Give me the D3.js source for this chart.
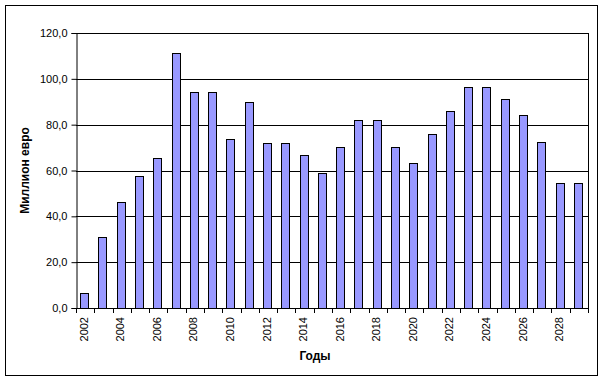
<!DOCTYPE html>
<html>
<head>
<meta charset="utf-8">
<script src="https://cdn.jsdelivr.net/npm/d3@7"></script>
<style>
    body { margin: 0; background: #fff; }
    text { font-family: Arial, "Liberation Sans", sans-serif; }
</style>
</head>
<body>
<svg id="chart" width="604" height="381"></svg>
<script>
// Data
const years = [2002, 2003, 2004, 2005, 2006, 2007, 2008, 2009, 2010, 2011,
               2012, 2013, 2014, 2015, 2016, 2017, 2018, 2019, 2020, 2021,
               2022, 2023, 2024, 2025, 2026, 2027, 2028, 2029];
const values = [6.5, 31.0, 46.3, 57.6, 65.5, 111.3, 94.3, 94.3, 73.7, 89.9,
                71.8, 71.8, 66.8, 58.9, 70.3, 82.0, 82.0, 70.3, 63.3, 75.9,
                86.0, 96.4, 96.4, 91.2, 84.2, 72.4, 54.5, 54.5];
const yTicks = [0, 20, 40, 60, 80, 100, 120];
const xTitle = "Годы";
const yTitle = "Миллион евро";

const svg = d3.select("#chart");

// plot area
const plotL = 76, plotR = 588, plotT = 33, plotB = 308;

// Outer chart border
svg.append("rect")
    .attr("x", 5.5).attr("y", 5.5)
    .attr("width", 592).attr("height", 370)
    .attr("fill", "white")
    .attr("stroke", "black");

const xScale = d3.scaleBand().domain(years).range([plotL, plotR]);
const yScale = d3.scaleLinear().domain([0, 120]).range([plotB, plotT]);
const fmt = d => d3.format(".1f")(d).replace(".", ",");

// Gridlines
svg.append("g")
    .selectAll("line")
    .data(yTicks.slice(1))
    .enter()
    .append("line")
        .attr("x1", plotL).attr("x2", plotR)
        .attr("y1", d => Math.round(yScale(d)) + 0.5)
        .attr("y2", d => Math.round(yScale(d)) + 0.5)
        .attr("stroke", "black");

// right border of plot area
svg.append("line")
    .attr("x1", plotR + 0.5).attr("x2", plotR + 0.5)
    .attr("y1", plotT).attr("y2", plotB)
    .attr("stroke", "black");

// Bars
const barW = 8;
svg.append("g")
    .selectAll("rect")
    .data(years)
    .enter()
    .append("rect")
        .attr("x", (d) => Math.round(xScale(d) + xScale.bandwidth() / 2 - barW / 2) - 0.5)
        .attr("y", (d, i) => Math.round(yScale(values[i])) + 0.5)
        .attr("width", barW)
        .attr("height", (d, i) => Math.round(yScale(0)) - Math.round(yScale(values[i])))
        .attr("fill", "#9999ff")
        .attr("stroke", "black");

// y-axis
const yAxis = svg.append("g")
    .attr("transform", `translate(${plotL + 0.5},0)`)
    .call(d3.axisLeft(yScale).tickValues(yTicks).tickFormat(fmt).tickSize(5).tickPadding(4));
yAxis.select(".domain").attr("stroke", "black");
yAxis.selectAll("text").style("font-size", "11px").attr("fill", "black")
    .style("font-family", "Arial, 'Liberation Sans', sans-serif");

// x-axis : ticks on category boundaries
svg.append("line")
    .attr("x1", plotL).attr("x2", plotR + 1)
    .attr("y1", plotB + 0.5).attr("y2", plotB + 0.5)
    .attr("stroke", "black");
svg.append("g")
    .selectAll("line")
    .data(years.concat([null]))
    .enter()
    .append("line")
        .attr("x1", (d, i) => Math.round(plotL + i * xScale.step()) + 0.5)
        .attr("x2", (d, i) => Math.round(plotL + i * xScale.step()) + 0.5)
        .attr("y1", plotB).attr("y2", plotB + 5)
        .attr("stroke", "black");

// x labels, every other year, rotated
svg.append("g")
    .selectAll("text")
    .data(years.filter((d, i) => i % 2 === 0))
    .enter()
    .append("text")
        .attr("transform", d => `translate(${xScale(d) + xScale.bandwidth() / 2 + 2.5},${plotB + 9})rotate(-90)`)
        .attr("text-anchor", "end")
        .style("font-size", "11px")
        .text(d => d);

// Titles
svg.append("text")
    .attr("x", 315).attr("y", 360)
    .attr("text-anchor", "middle")
    .style("font-size", "12px")
    .style("font-weight", "bold")
    .text(xTitle);

svg.append("text")
    .attr("transform", `translate(29, ${(plotT + plotB) / 2})rotate(-90)`)
    .attr("text-anchor", "middle")
    .style("font-size", "12px")
    .style("font-weight", "bold")
    .text(yTitle);
</script>
</body>
</html>
